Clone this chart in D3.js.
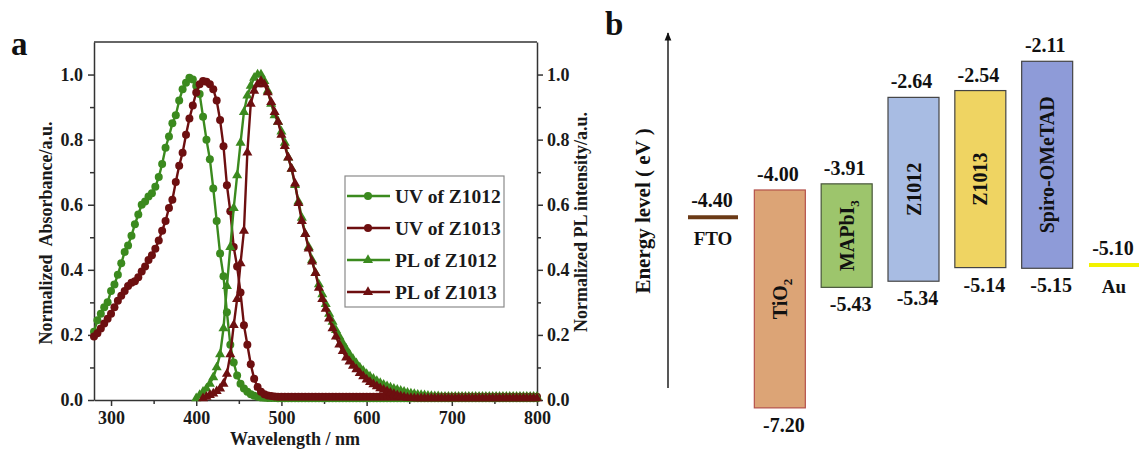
<!DOCTYPE html>
<html>
<head>
<meta charset="utf-8">
<script src="https://cdn.jsdelivr.net/npm/d3@7"></script>
<style>
  body { margin: 0; background: #fff; }
  svg { display: block; font-family: 'Liberation Serif', 'Times New Roman', serif; font-weight: bold; }
</style>
</head>
<body>
<svg id="fig" width="1139" height="455"></svg>
<script>
// ---- panel a: spectra (values read every 4 nm) ----
const stepNm = 4;
const uvStart = 280, pl12Start = 400, pl13Start = 408;

const uvZ1012 = [
    .21, .245, .265, .285, .30, .335, .355, .385, .42, .455,
    .475, .505, .54, .57, .60, .61, .625, .635, .655, .685,
    .725, .775, .81, .85, .875, .92, .955, .975, .99, .985,
    .965, .94, .87, .80, .74, .65, .55, .45, .38, .27,
    .17, .115, .075, .05, .035, .025, .018, .013, .01, .008,
    .007, .006, .006, .006, .005, .005, .005, .005, .005, .005,
    .005, .005, .005, .005, .005, .005, .005, .005, .005, .005,
    .005, .005, .005, .005, .005, .005, .005, .005, .005, .005,
    .005, .005, .005, .005, .005, .005, .005, .005, .005, .005,
    .005, .005, .005, .005, .005, .005, .005, .005, .005, .005,
    .005, .005, .005, .005, .005, .005, .005, .005, .005, .005,
    .005, .005, .005, .005, .005, .005, .005, .005, .005, .005,
    .005, .005, .005, .005, .005, .005, .005, .005, .005, .005,
    .005
];

const uvZ1013 = [
    .195, .205, .22, .235, .25, .265, .285, .305, .32, .335,
    .35, .36, .365, .377, .395, .41, .43, .445, .465, .49,
    .52, .55, .59, .615, .67, .72, .76, .815, .865, .905,
    .945, .97, .98, .978, .97, .955, .92, .86, .78, .66,
    .58, .47, .41, .33, .23, .17, .11, .065, .04, .025,
    .018, .014, .012, .011, .01, .01, .01, .01, .01, .01,
    .01, .01, .01, .01, .01, .01, .01, .01, .01, .01,
    .01, .01, .01, .01, .01, .01, .01, .01, .01, .01,
    .01, .01, .01, .01, .01, .01, .01, .01, .01, .01,
    .01, .01, .01, .01, .01, .01, .01, .01, .01, .01,
    .01, .01, .01, .01, .01, .01, .01, .01, .01, .01,
    .01, .01, .01, .01, .01, .01, .01, .01, .01, .01,
    .01, .01, .01, .01, .01, .01, .01, .01, .01, .01,
    .01
];

const plZ1012 = [
    .005, .015, .025, .035, .05, .07, .10, .14, .22, .35,
    .47, .59, .69, .79, .885, .935, .965, .99, 1.0, 1.0,
    .98, .95, .91, .875, .855, .825, .79, .745, .71, .66,
    .61, .56, .51, .47, .43, .39, .355, .325, .295, .265,
    .24, .215, .195, .175, .157, .14, .126, .113, .10, .09,
    .08, .072, .065, .058, .052, .047, .042, .038, .034, .031,
    .028, .025, .022, .02, .018, .016, .015, .014, .013, .012,
    .011, .011, .01, .01, .01, .01, .01, .01, .01, .01,
    .01, .01, .01, .01, .01, .01, .01, .01, .01, .01,
    .01, .01, .01, .01, .01, .01, .01, .01, .01, .01,
    .01
];

const plZ1013 = [
    .005, .01, .015, .02, .027, .035, .05, .08, .14, .23,
    .31, .42, .52, .76, .91, .95, .97, .98, .97, .945,
    .915, .885, .855, .815, .78, .745, .71, .665, .605, .55,
    .51, .465, .425, .39, .345, .31, .28, .25, .22, .195,
    .17, .15, .13, .118, .105, .094, .083, .073, .063, .055,
    .048, .042, .036, .031, .027, .022, .018, .014, .011, .009,
    .007, .006, .005, .005, .005, .005, .005, .005, .005, .005,
    .005, .005, .005, .005, .005, .005, .005, .005, .005, .005,
    .005, .005, .005, .005, .005, .005, .005, .005, .005, .005,
    .005, .005, .005, .005, .005, .005, .005, .005, .005
];

const xTicks = [300, 400, 500, 600, 700, 800];
const xMinorTicks = [350, 450, 550, 650, 750];
const yTicks = [0, 0.2, 0.4, 0.6, 0.8, 1.0];
const yMinorTicks = [0.1, 0.3, 0.5, 0.7, 0.9];

// ---- panel b: energy levels (eV) ----
const layers = ['FTO', 'TiO2', 'MAPbI3', 'Z1012', 'Z1013', 'Spiro-OMeTAD', 'Au'];
const upperLevel = [-4.40, -4.00, -3.91, -2.64, -2.54, -2.11, -5.10];
const lowerLevel = [null, -7.20, -5.43, -5.34, -5.14, -5.15, null];

const green = '#3b8a1e',
    darkRed = '#6d0f10',
    axisColor = '#333';

const svg = d3.select('#fig');

const x = d3.scaleLinear().domain([280, 800]).range([94, 537]);
const y = d3.scaleLinear().domain([0, 1.1]).range([400, 42]);

const series = [
    { name: 'UV of Z1012', start: uvStart, values: uvZ1012, color: green, shape: 'circle' },
    { name: 'UV of Z1013', start: uvStart, values: uvZ1013, color: darkRed, shape: 'circle' },
    { name: 'PL of Z1012', start: pl12Start, values: plZ1012, color: green, shape: 'triangle' },
    { name: 'PL of Z1013', start: pl13Start, values: plZ1013, color: darkRed, shape: 'triangle' }
];

const triangle = d3.symbol().type(d3.symbolTriangle).size(44);

function drawMarker(sel, shape, color) {
    if (shape === 'circle') {
        sel.append('circle').attr('r', 4).attr('fill', color);
    } else {
        sel.append('path').attr('d', triangle).attr('fill', color);
    }
}

// frame
const panelA = svg.append('g');

panelA.append('line')
    .attr('x1', x(280)).attr('x2', x(800))
    .attr('y1', y(1.1)).attr('y2', y(1.1))
    .attr('stroke', axisColor).attr('stroke-width', 1.5);

function styleAxis(g) {
    g.select('.domain').attr('stroke', axisColor).attr('stroke-width', 1.5);
    g.selectAll('.tick line').attr('stroke', axisColor).attr('stroke-width', 1.5);
    g.selectAll('.tick text')
        .attr('fill', '#1a1a1a')
        .attr('font-size', 18)
        .attr('font-weight', 'bold')
        .attr('font-family', "'Liberation Serif', 'Times New Roman', serif");
}

function minor(g, axis) {
    g.append('g').call(axis).call(g2 => {
        g2.select('.domain').remove();
        g2.selectAll('.tick text').remove();
        g2.selectAll('.tick line').attr('stroke', axisColor).attr('stroke-width', 1.5);
    });
}

const xAxisG = panelA.append('g').attr('transform', 'translate(0,' + y(0) + ')');
xAxisG.call(d3.axisBottom(x).tickValues(xTicks).tickSize(6).tickSizeOuter(0).tickPadding(5))
    .call(styleAxis);
minor(xAxisG, d3.axisBottom(x).tickValues(xMinorTicks).tickSize(4));

const yAxisG = panelA.append('g').attr('transform', 'translate(' + x(280) + ',0)');
yAxisG.call(d3.axisLeft(y).tickValues(yTicks).tickFormat(d3.format('.1f')).tickSize(6).tickSizeOuter(0).tickPadding(5))
    .call(styleAxis);
minor(yAxisG, d3.axisLeft(y).tickValues(yMinorTicks).tickSize(4));

const yAxisR = panelA.append('g').attr('transform', 'translate(' + x(800) + ',0)');
yAxisR.call(d3.axisRight(y).tickValues(yTicks).tickFormat(d3.format('.1f')).tickSize(6).tickSizeOuter(0).tickPadding(4))
    .call(styleAxis);
minor(yAxisR, d3.axisRight(y).tickValues(yMinorTicks).tickSize(4));

// curves
const line = d3.line().x(d => x(d.wl)).y(d => y(d.v));

series.forEach(s => {
    const pts = s.values.map((v, i) => ({ wl: s.start + i * stepNm, v: v }));
    const g = panelA.append('g');
    g.append('path')
        .datum(pts)
        .attr('d', line)
        .attr('fill', 'none')
        .attr('stroke', s.color)
        .attr('stroke-width', 2.4);
    g.selectAll('g.pt')
        .data(pts)
        .enter()
        .append('g')
        .classed('pt', true)
        .attr('transform', d => 'translate(' + x(d.wl) + ',' + y(d.v) + ')')
        .each(function () { drawMarker(d3.select(this), s.shape, s.color); });
});

// axis titles
panelA.append('text')
    .text('Wavelength / nm')
    .attr('x', 295).attr('y', 445)
    .attr('text-anchor', 'middle')
    .attr('font-size', 18)
    .attr('fill', '#1a1a1a');

panelA.append('text')
    .text('Normalized  Absorbance/a.u.')
    .attr('transform', 'translate(52,233) rotate(-90)')
    .attr('text-anchor', 'middle')
    .attr('font-size', 18)
    .attr('fill', '#1a1a1a')
    .style('white-space', 'pre');

panelA.append('text')
    .text('Normalized PL intensity/a.u.')
    .attr('transform', 'translate(587,222) rotate(-90)')
    .attr('text-anchor', 'middle')
    .attr('font-size', 18)
    .attr('fill', '#1a1a1a');

panelA.append('text')
    .text('a')
    .attr('x', 11).attr('y', 55)
    .attr('font-size', 33)
    .attr('fill', '#111');

// legend
const legend = panelA.append('g');
legend.append('rect')
    .attr('x', 345).attr('y', 176)
    .attr('width', 159).attr('height', 131)
    .attr('fill', 'white')
    .attr('stroke', '#8a8a8a')
    .attr('stroke-width', 1.2);

const legendItems = legend.selectAll('g.item')
    .data(series)
    .enter()
    .append('g')
    .classed('item', true)
    .attr('transform', (d, i) => 'translate(0,' + (196 + i * 32) + ')');

legendItems.append('line')
    .attr('x1', 347).attr('x2', 390)
    .attr('y1', 0).attr('y2', 0)
    .attr('stroke', d => d.color)
    .attr('stroke-width', 2.4);

legendItems.each(function (d) {
    const m = d3.select(this).append('g').attr('transform', 'translate(368,0)');
    drawMarker(m, d.shape, d.color);
});

legendItems.append('text')
    .text(d => d.name)
    .attr('x', 395).attr('y', 0)
    .attr('dy', '0.35em')
    .attr('font-size', 19.5)
    .attr('fill', '#1a1a1a');

// ---- panel b ----
const panelB = svg.append('g');

const e = d3.scaleLinear().domain([-2, -7.5]).range([53.8, 428.3]);
const px = d3.scalePoint().domain(layers).range([713, 1114]);
const boxW = 51;

const fills = {
    'TiO2': '#dca476', 'MAPbI3': '#9dc56c', 'Z1012': '#a8bce3',
    'Z1013': '#efd462', 'Spiro-OMeTAD': '#8e9bd8'
};
const strokes = { 'TiO2': '#b4514a', 'MAPbI3': '#47553a' };
const subs = { 'TiO2': ['TiO', '2'], 'MAPbI3': ['MAPbI', '3'] };

const levels = layers.map((name, i) => ({ name: name, top: upperLevel[i], bottom: lowerLevel[i] }));
const boxes = levels.filter(d => d.bottom !== null);
const metals = levels.filter(d => d.bottom === null);

// energy arrow
panelB.append('defs').append('marker')
    .attr('id', 'arrow')
    .attr('viewBox', '0 0 10 10')
    .attr('refX', 9).attr('refY', 5)
    .attr('markerWidth', 6).attr('markerHeight', 8)
    .attr('orient', 'auto')
    .append('path')
    .attr('d', 'M0,1 L10,5 L0,9 Z')
    .attr('fill', '#111');

panelB.append('line')
    .attr('x1', 668).attr('x2', 668)
    .attr('y1', 388).attr('y2', 33)
    .attr('stroke', '#111')
    .attr('stroke-width', 1.4)
    .attr('marker-end', 'url(#arrow)');

panelB.append('text')
    .text('Energy level ( eV )')
    .attr('transform', 'translate(650,211) rotate(-90)')
    .attr('text-anchor', 'middle')
    .attr('font-size', 21)
    .attr('fill', '#111');

panelB.append('text')
    .text('b')
    .attr('x', 605).attr('y', 35)
    .attr('font-size', 33)
    .attr('fill', '#111');

const boxG = panelB.selectAll('g.box')
    .data(boxes)
    .enter()
    .append('g')
    .classed('box', true);

boxG.append('rect')
    .attr('x', d => px(d.name) - boxW / 2)
    .attr('y', d => e(d.top))
    .attr('width', boxW)
    .attr('height', d => e(d.bottom) - e(d.top))
    .attr('fill', d => fills[d.name])
    .attr('stroke', d => strokes[d.name] || '#444')
    .attr('stroke-width', 1.2);

boxG.append('text')
    .text(d => d.top.toFixed(2))
    .attr('x', d => px(d.name) - 2)
    .attr('y', d => e(d.top) - 9)
    .attr('text-anchor', 'middle')
    .attr('font-size', 20)
    .attr('fill', '#111');

boxG.append('text')
    .text(d => d.bottom.toFixed(2))
    .attr('x', d => px(d.name) + 4)
    .attr('y', d => e(d.bottom) + 24)
    .attr('text-anchor', 'middle')
    .attr('font-size', 20)
    .attr('fill', '#111');

boxG.append('text')
    .attr('transform', d => 'translate(' + px(d.name) + ',' + (e(d.top) + e(d.bottom)) / 2 + ') rotate(-90)')
    .attr('text-anchor', 'middle')
    .attr('dy', '0.35em')
    .attr('font-size', 20)
    .attr('fill', '#111')
    .each(function (d) {
        const t = d3.select(this);
        if (subs[d.name]) {
            t.append('tspan').text(subs[d.name][0]);
            t.append('tspan').text(subs[d.name][1]).attr('font-size', 13).attr('dy', 5);
        } else {
            t.text(d.name);
        }
    });

const metalColors = { 'FTO': '#6b3a16', 'Au': '#f2f200' };
const metalG = panelB.selectAll('g.metal')
    .data(metals)
    .enter()
    .append('g')
    .classed('metal', true);

metalG.append('line')
    .attr('x1', d => px(d.name) - 25)
    .attr('x2', d => px(d.name) + 25)
    .attr('y1', d => e(d.top))
    .attr('y2', d => e(d.top))
    .attr('stroke', d => metalColors[d.name])
    .attr('stroke-width', 4);

metalG.append('text')
    .text(d => d.top.toFixed(2))
    .attr('x', d => px(d.name) - 1)
    .attr('y', d => e(d.top) - 10)
    .attr('text-anchor', 'middle')
    .attr('font-size', 20)
    .attr('fill', '#111');

metalG.append('text')
    .text(d => d.name)
    .attr('x', d => px(d.name))
    .attr('y', d => e(d.top) + 28)
    .attr('text-anchor', 'middle')
    .attr('font-size', 19)
    .attr('fill', '#111');
</script>
</body>
</html>
